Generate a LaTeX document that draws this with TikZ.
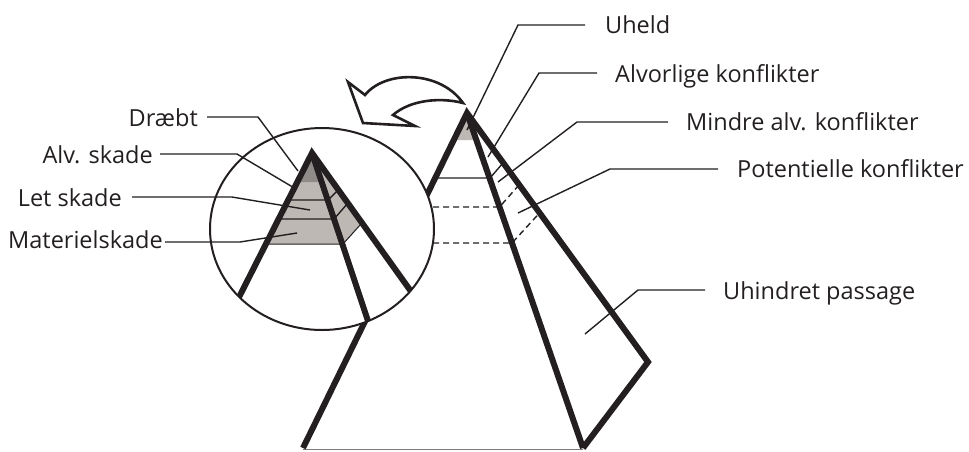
\documentclass[tikz,border=0pt]{standalone}
\usepackage{fontspec}
\setmainfont{Open Sans}
\definecolor{ink}{HTML}{231F20}
\definecolor{lightg}{HTML}{BDB8B3}
\definecolor{darkg}{HTML}{8E8B88}
\begin{document}
\begin{tikzpicture}[x=1pt,y=-1pt,
  edge/.style={draw=ink,line width=6pt,line join=miter},
  thinl/.style={draw=ink,line width=1.4pt},
  dashl/.style={draw=ink,line width=1.4pt,dash pattern=on 6pt off 4pt},
  leader/.style={draw=ink,line width=1.4pt},
  lbl/.style={inner sep=0pt,text=ink,font=\fontsize{23.5}{28}\selectfont},
  lblR/.style={lbl,anchor=base west},
  lblL/.style={lbl,anchor=base east}]
\useasboundingbox (0,0) rectangle (969,451);

% big pyramid
\fill[lightg] (467,113) -- (454,140) -- (476,140) -- cycle;
\draw[thinl] (435,178) -- (490,178) -- (503,163);
\draw[dashl] (433,207) -- (499.5,207) -- (519,185);
\draw[dashl] (433,243) -- (512,243) -- (539.5,213);
\draw[draw=ink!60,line width=1.2pt] (303,449.5) -- (583,449.5);
\coordinate (A) at (467,113);
\draw[edge] (303,448) -- (A) -- (648,362) -- (583,448);
\draw[edge] (A) -- (583,448);

% magnifying ellipse
\fill[white] (322,229) ellipse [x radius=112pt, y radius=101pt];
\coordinate (a) at (312,153);
\begin{scope}
  \clip (322,229) ellipse [x radius=112pt, y radius=101pt];
  \fill[lightg] (a) -- (266,244) -- (343,244) -- (361,224) -- cycle;
  \fill[darkg] (a) -- (297,182) -- (322,182) -- cycle;
  \draw[thinl] (288,200) -- (328,200) -- (339,189);
  \draw[thinl] (278.5,219) -- (334,219) -- (348,203);
  \draw[draw=ink,line width=1pt] (266,244) -- (343,244) -- (361,224);
  \draw[edge] (230,315) -- (a) -- (420,304);
\end{scope}
\draw[edge] (a) -- (368,321);
\draw[draw=ink,line width=2pt] (322,229) ellipse [x radius=112pt, y radius=101pt];

% curved arrow
\draw[draw=ink,line width=2.6pt,fill=white,line join=miter]
  (348,82) -- (365,95) .. controls (385,70) and (440,70) .. (463,103)
  .. controls (440,97) and (410,100) .. (393,115) -- (415,126) -- (363,123) -- cycle;

% right labels
\node[lblR] (uheld) at (605,33) {Uheld};
\node[lblR] (alvk) at (615,82) {Alvorlige konflikter};
\node[lblR] (mindre) at (686,130) {Mindre alv. konflikter};
\node[lblR] (pot) at (737,177) {Potentielle konflikter};
\node[lblR] (uhind) at (723,299) {Uhindret passage};

\coordinate (uheldS) at (585,25);
\coordinate (alvkS) at (597,73);
\coordinate (mindreS) at (668,122);
\coordinate (potS) at (718,169);
\coordinate (uhindS) at (705,290);
\coordinate (uheldE) at (467,130);
\coordinate (alvkE) at (488,157);
\coordinate (mindreE) at (498,182);
\coordinate (potE) at (518,213);
\coordinate (uhindE) at (585,334);
\draw[leader] (uheldS) -- (518,25) -- (uheldE);
\draw[leader] (alvkS) -- (539,73) -- (alvkE);
\draw[leader] (mindreS) -- (577,122) -- (mindreE);
\draw[leader] (potS) -- (610,169) -- (potE);
\draw[leader] (uhindS) -- (638,290) -- (uhindE);

% left labels
\node[lblL] (draebt) at (198,126) {Dræbt};
\node[lblL] (alvs) at (153,163) {Alv. skade};
\node[lblL] (let) at (122,206) {Let skade};
\node[lblL] (mat) at (163,248) {Materielskade};

\coordinate (draebtS) at (207,117);
\coordinate (alvsS) at (160,154);
\coordinate (letS) at (132,197);
\coordinate (matS) at (165,242);
\coordinate (draebtE) at (298,171);
\coordinate (alvsE) at (296,189);
\coordinate (letE) at (310,210);
\coordinate (matE) at (297,233);
\draw[leader] (draebtS) -- (258,117) -- (draebtE);
\draw[leader] (alvsS) -- (237,154) -- (alvsE);
\draw[leader] (letS) -- (232,197) -- (letE);
\draw[leader] (matS) -- (240,242) -- (matE);
\end{tikzpicture}
\end{document}
